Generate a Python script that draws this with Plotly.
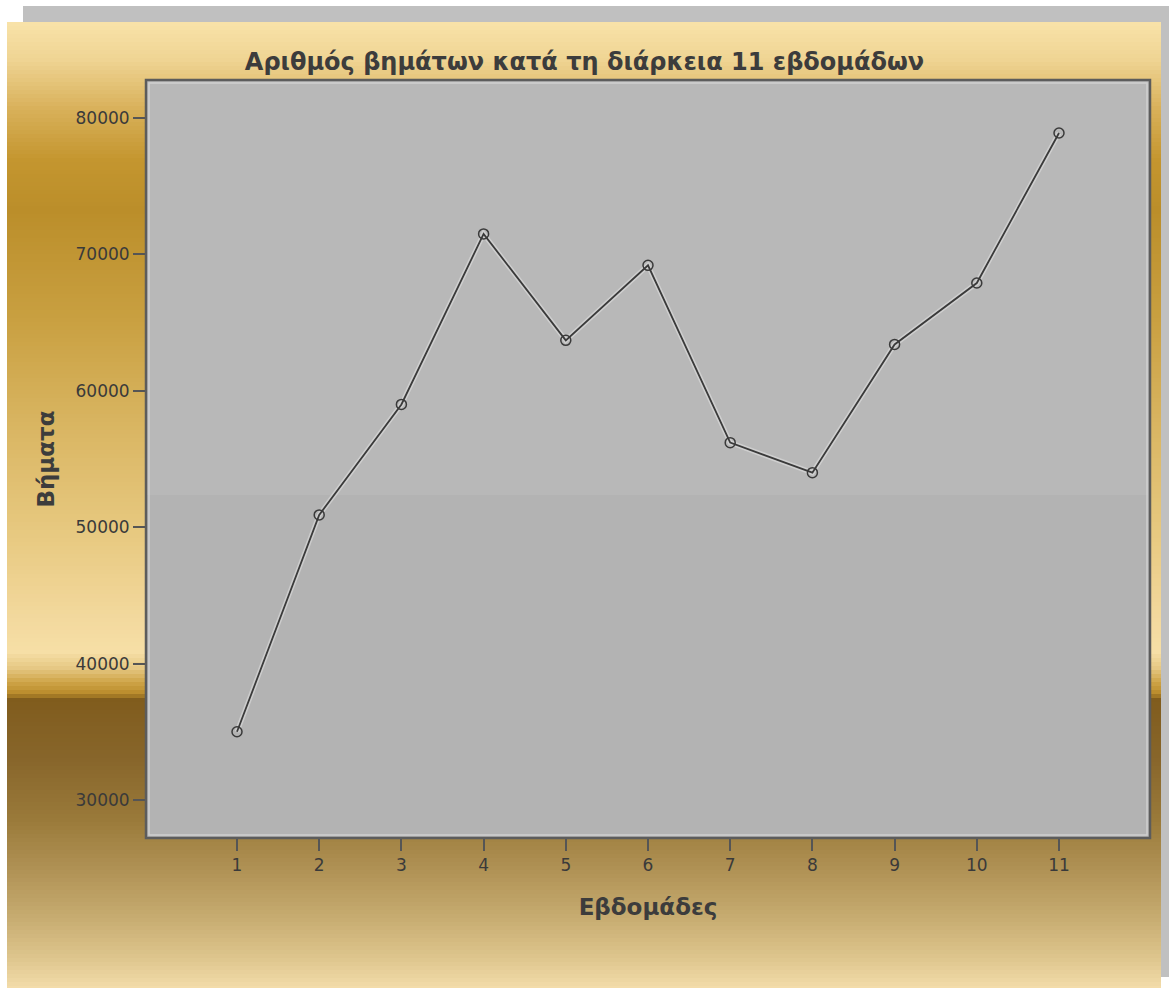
import plotly.graph_objects as go

# Weekly step counts
weeks = [1, 2, 3, 4, 5, 6, 7, 8, 9, 10, 11]
steps = [35000, 50900, 59000, 71500, 63700, 69200, 56200, 54000, 63400, 67900, 78900]
y_ticks = [30000, 40000, 50000, 60000, 70000, 80000]

title_text = "Αριθμός βημάτων κατά τη διάρκεια 11 εβδομάδων"
x_title = "Εβδομάδες"
y_title = "Βήματα"

W, H = 1169, 988
PL, PR, PT, PB = 146, 1150, 80, 838  # plot area in page pixels


def px_x(px):
    return (px - PL) / (PR - PL)


def px_y(py):
    return (PB - py) / (PB - PT)


def hex_to_rgb(h):
    h = h.lstrip("#")
    return tuple(int(h[i:i + 2], 16) for i in (0, 2, 4))


def lerp_color(stops, py):
    for (y0, c0), (y1, c1) in zip(stops, stops[1:]):
        if y0 <= py <= y1:
            t = 0 if y1 == y0 else (py - y0) / (y1 - y0)
            a, b = hex_to_rgb(c0), hex_to_rgb(c1)
            return "rgb(%d,%d,%d)" % tuple(round(a[i] + (b[i] - a[i]) * t) for i in range(3))
    return stops[-1][1]


# Gold backdrop gradient, page-pixel stops
gold_stops = [
    (22, "#f8e3a9"), (60, "#efd493"), (110, "#d8b059"), (160, "#c4962f"),
    (210, "#bb8e2a"), (320, "#c9a041"), (440, "#dbb866"), (540, "#e8ca82"),
    (620, "#f3d99e"), (652, "#f6dfa6"), (668, "#e6c884"), (682, "#cfa548"),
    (694, "#b88a2a"), (699, "#805c1d"), (760, "#88662b"), (820, "#9a7a3a"),
    (870, "#b09255"), (920, "#c8ad72"), (960, "#dfc78f"), (988, "#f3dcaa"),
]

shapes = []
# drop-shadow frame behind the gold panel
shapes.append(dict(type="rect", xref="paper", yref="paper", layer="below",
                   x0=px_x(23), x1=px_x(1169), y0=px_y(977), y1=px_y(6),
                   fillcolor="#c0c0c0", line=dict(width=0)))
band = 4
for y in range(22, 988, band):
    shapes.append(dict(type="rect", xref="paper", yref="paper", layer="below",
                       x0=px_x(7), x1=px_x(1161), y0=px_y(min(y + band, 988)), y1=px_y(y),
                       fillcolor=lerp_color(gold_stops, y + band / 2), line=dict(width=0)))
# plot panel
shapes.append(dict(type="rect", xref="paper", yref="paper", layer="below",
                   x0=0, x1=1, y0=0, y1=1, fillcolor="#b3b3b3", line=dict(width=0)))
shapes.append(dict(type="rect", xref="paper", yref="paper", layer="below",
                   x0=px_x(147), x1=px_x(1148), y0=px_y(495), y1=1,
                   fillcolor="#b8b8b8", line=dict(width=0)))
# inner highlight and outer frame
shapes.append(dict(type="rect", xref="paper", yref="paper", layer="above",
                   x0=px_x(149), x1=px_x(1147), y0=px_y(835), y1=px_y(83),
                   fillcolor="rgba(0,0,0,0)", line=dict(color="#cfcfcf", width=1.5)))
shapes.append(dict(type="rect", xref="paper", yref="paper", layer="above",
                   x0=0, x1=1, y0=0, y1=1,
                   fillcolor="rgba(0,0,0,0)", line=dict(color="#5c5c5c", width=2.5)))

fig = go.Figure()
# soft halo under the line
fig.add_trace(go.Scatter(x=weeks, y=steps, mode="lines",
                         line=dict(color="rgba(235,235,235,0.45)", width=5),
                         hoverinfo="skip", showlegend=False))
fig.add_trace(go.Scatter(x=weeks, y=steps, mode="lines+markers",
                         line=dict(color="#3a3a3a", width=1.8),
                         marker=dict(symbol="circle-open", size=10,
                                     color="#3a3a3a", line=dict(width=1.5)),
                         showlegend=False))

FONT = "DejaVu Sans, Verdana, sans-serif"
axis_font = dict(family=FONT, size=17, color="#3a3a3a")
title_font = dict(family=FONT, size=24, color="#3c3c3c")
label_font = dict(family=FONT, size=23, color="#3c3c3c")

fig.update_layout(
    width=W, height=H,
    margin=dict(l=PL, r=W - PR, t=PT, b=H - PB, autoexpand=False),
    paper_bgcolor="white",
    plot_bgcolor="rgba(0,0,0,0)",
    shapes=shapes,
    title=dict(text="<b>" + title_text + "</b>", x=0.5, xref="container",
               xanchor="center", y=1 - 62 / H, yanchor="middle", font=title_font),
    xaxis=dict(range=[-0.107, 12.107], tickmode="array", tickvals=weeks,
               ticktext=[str(w) for w in weeks], ticks="outside", ticklen=12,
               tickwidth=2, tickcolor="#555555", showgrid=False, zeroline=False,
               showline=False, tickfont=axis_font,
               title=dict(text="<b>" + x_title + "</b>", standoff=24, font=label_font)),
    yaxis=dict(range=[27214, 82786], tickmode="array", tickvals=y_ticks,
               ticktext=[str(v) for v in y_ticks], ticks="outside", ticklen=12,
               tickwidth=2, tickcolor="#555555", showgrid=False, zeroline=False,
               showline=False, tickfont=axis_font,
               title=dict(text="<b>" + y_title + "</b>", standoff=14, font=label_font)),
)

fig.write_html("out.html")
